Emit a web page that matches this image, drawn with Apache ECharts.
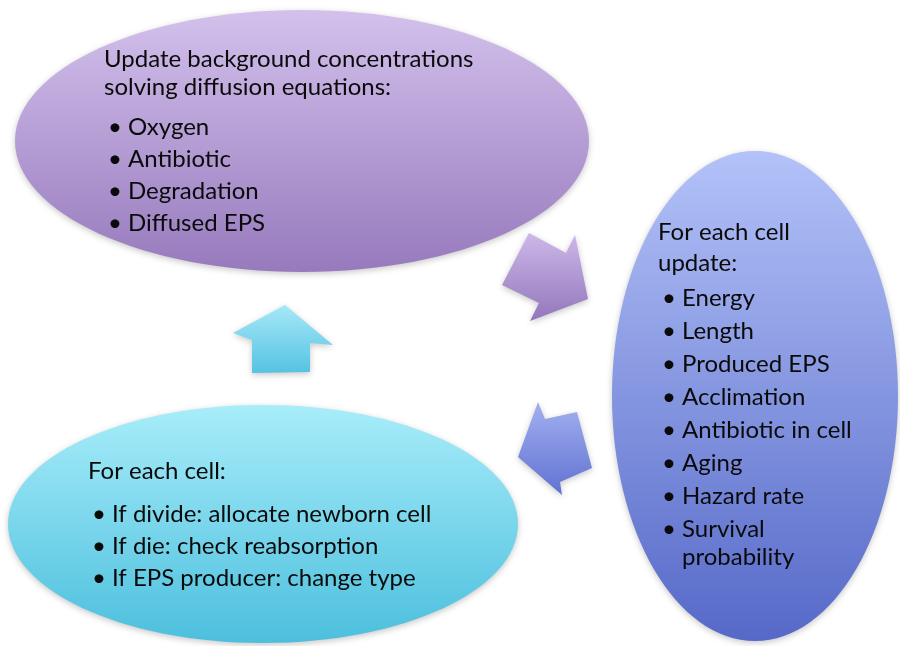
<!DOCTYPE html>
<html>
<head>
<meta charset="utf-8">
<script src="https://cdn.jsdelivr.net/npm/echarts@6/dist/echarts.min.js"></script>
<style>
  html, body { margin: 0; padding: 0; background: #fff; }
  #main { width: 900px; height: 646px; }
</style>
</head>
<body>
<div id="main"></div>
<script>
// texts of the three steps
var topTitle = ['Update background concentrations', 'solving diffusion equations:'];
var topItems = ['Oxygen', 'Antibiotic', 'Degradation', 'Diffused EPS'];
var rightTitle = ['For each cell', 'update:'];
var rightItems = ['Energy', 'Length', 'Produced EPS', 'Acclimation', 'Antibiotic in cell', 'Aging', 'Hazard rate', ['Survival', 'probability']];
var bottomTitle = ['For each cell:'];
var bottomItems = ['If divide: allocate newborn cell', 'If die: check reabsorption', 'If EPS producer: change type'];

var FONT = 'Lato, "Open Sans", sans-serif';
var FS = 24;

function grad(c1, c2) {
    return new echarts.graphic.LinearGradient(0, 0, 0, 1, [
        { offset: 0, color: c1 },
        { offset: 1, color: c2 }
    ]);
}

function shadow(style) {
    style.shadowBlur = 6;
    style.shadowColor = 'rgba(0,0,0,0.22)';
    style.shadowOffsetY = 2;
    return style;
}

// build text block: titles then bullet lines
function textBlock(titles, items, x, titleY, titleGap, firstItemY, itemGap, subGap) {
    var els = [];
    titles.forEach(function (t, i) {
        els.push({
            type: 'text', x: x, y: titleY + i * titleGap,
            style: { text: t, font: FS + 'px ' + FONT, fill: '#0a0a0a', verticalAlign: 'middle' }
        });
    });
    var y = firstItemY;
    items.forEach(function (it) {
        var lines = Array.isArray(it) ? it : [it];
        els.push({
            type: 'text', x: x + 4, y: y,
            style: { text: '\u2022', font: FS + 'px ' + FONT, fill: '#0a0a0a', verticalAlign: 'middle' }
        });
        lines.forEach(function (l, j) {
            els.push({
                type: 'text', x: x + 24, y: y + j * subGap,
                style: { text: l, font: FS + 'px ' + FONT, fill: '#0a0a0a', verticalAlign: 'middle' }
            });
        });
        y += itemGap + (lines.length - 1) * subGap;
    });
    return els;
}

var chart = echarts.init(document.getElementById('main'));

var elements = [
    // ellipses
    {
        type: 'ellipse', shape: { cx: 302, cy: 141, rx: 287, ry: 131 },
        style: shadow({ fill: grad('#d3c1ec', '#977abd') })
    },
    {
        type: 'ellipse', shape: { cx: 755, cy: 396, rx: 143, ry: 245 },
        style: shadow({ fill: grad('#b3c2f8', '#5669c8') })
    },
    {
        type: 'ellipse', shape: { cx: 263, cy: 524, rx: 255, ry: 119 },
        style: shadow({ fill: grad('#a8edfa', '#4cbfdd') })
    },
    // arrows
    {
        type: 'polygon',
        shape: { points: [[529, 233], [566, 253], [575, 235], [588, 299], [530, 321], [539, 303], [502, 285]] },
        style: shadow({ fill: grad('#cdb8e9', '#9277bb') })
    },
    {
        type: 'polygon',
        shape: { points: [[285, 305], [333, 345], [310, 343], [310, 372], [252, 373], [252, 340], [233, 333]] },
        style: shadow({ fill: grad('#a6e8f8', '#55c3e2') })
    },
    {
        type: 'polygon',
        shape: { points: [[538, 402], [545, 419], [577, 412], [592, 468], [560, 482], [562, 495], [518, 457]] },
        style: shadow({ fill: grad('#a3b0f0', '#5f72d1') })
    }
];

elements = elements
    .concat(textBlock(topTitle, topItems, 104, 59, 28, 127, 32, 0))
    .concat(textBlock(rightTitle, rightItems, 658, 232, 31, 298, 33, 28))
    .concat(textBlock(bottomTitle, bottomItems, 88, 471, 0, 514, 32, 0));

chart.setOption({
    backgroundColor: '#fff',
    animation: false,
    graphic: { elements: elements }
});
</script>
</body>
</html>
